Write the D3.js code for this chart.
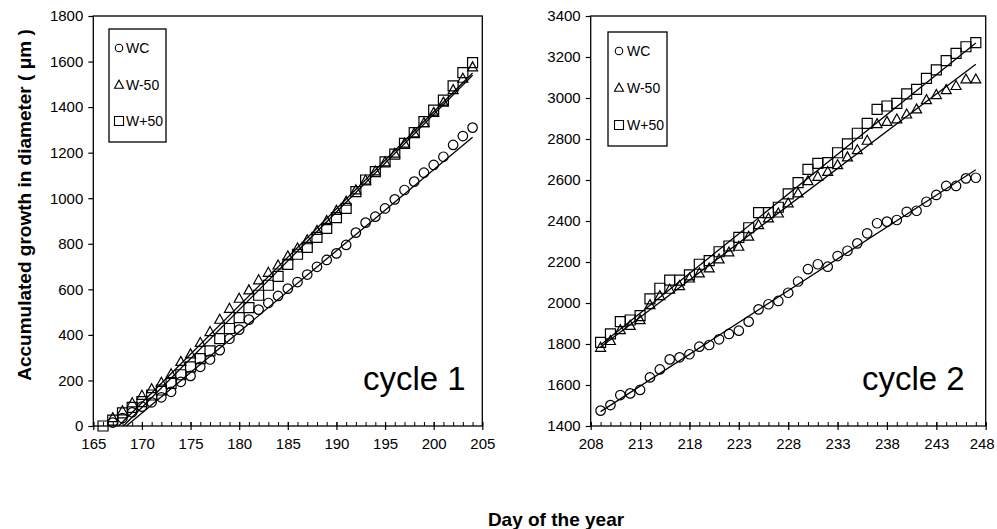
<!DOCTYPE html>
<html><head><meta charset="utf-8">
<script src="https://cdn.jsdelivr.net/npm/d3@7"></script>
<style>body{margin:0;background:#fff} svg text{font-family:"Liberation Sans",Arial,Helvetica,sans-serif;fill:#000}</style>
</head><body><svg id="c" width="997" height="529"></svg>
<script>
// ---------- DATA ----------
const seriesNames = ["WC", "W-50", "W+50"];

// Cycle 1
const c1Days = [166,167,168,169,170,171,172,173,174,175,176,177,178,179,180,181,182,183,184,185,
                186,187,188,189,190,191,192,193,194,195,196,197,198,199,200,201,202,203,204];
const c1WC   = [null,15,35,60,85,104,126,150,194,220,260,292,333,383,423,467,511,540,571,603,
                632,665,699,729,758,795,849,893,919,955,995,1036,1073,1112,1146,1182,1234,1273,1310];
const c1Wm50 = [null,35,65,100,133,162,190,228,282,315,365,413,467,515,559,596,640,673,705,745,
                780,816,857,900,945,985,1035,1078,1118,1158,1196,1240,1285,1330,1375,1420,1475,1525,1575];
const c1Wp50 = [0,26,58,82,107,136,158,187,225,260,296,330,384,428,476,520,574,618,657,710,
                754,784,828,868,915,955,1029,1080,1117,1160,1194,1241,1288,1336,1387,1431,1493,1551,1595];
// fitted lines (start/end points)
const c1FitWC   = [[168.4, 0], [204, 1268]];
const c1FitWm50 = [[167.6, 0], [204, 1550]];
const c1FitWp50 = [[168.1, 0], [204, 1540]];

// Cycle 2
const c2Days = [209,210,211,212,213,214,215,216,217,218,219,220,221,222,223,224,225,226,227,228,
                229,230,231,232,233,234,235,236,237,238,239,240,241,242,243,244,245,246,247];
const c2WC   = [1475,1502,1551,1559,1576,1637,1676,1725,1735,1750,1787,1795,1823,1849,1865,1909,1969,1994,2010,2050,
                2105,2165,2189,2177,2229,2255,2291,2340,2389,2397,2405,2445,2450,2494,2527,2571,2571,2608,2611];
const c2Wm50 = [1782,1815,1868,1889,1917,1990,2034,2065,2083,2120,2145,2169,2213,2247,2275,2324,2380,2413,2437,2486,
                2535,2595,2616,2640,2673,2711,2746,2792,2873,2884,2896,2920,2945,2990,3015,3039,3059,3091,3091];
const c2Wp50 = [1808,1849,1909,1917,1938,2020,2072,2112,2112,2137,2189,2207,2250,2278,2320,2367,2441,2441,2467,2532,
                2587,2652,2681,2685,2733,2776,2828,2876,2945,2961,2974,3020,3042,3096,3137,3182,3218,3250,3270];
const c2FitWC   = [[209, 1470], [247, 2650]];
const c2FitWm50 = [[209, 1785], [247, 3165]];
const c2FitWp50 = [[209, 1795], [247, 3268]];

// ticks
const c1XTicks = [165,170,175,180,185,190,195,200,205];
const c1YTicks = [0,200,400,600,800,1000,1200,1400,1600,1800];
const c2XTicks = [208,213,218,223,228,233,238,243,248];
const c2YTicks = [1400,1600,1800,2000,2200,2400,2600,2800,3000,3200,3400];

const panelLabels = ["cycle 1", "cycle 2"];
const yTitle = "Accumulated growth in diameter ( \u03bcm )";
const xTitle = "Day of the year";

// ---------- DRAW ----------
const svg = d3.select("#c");
const shapes = ["circle", "triangle", "square"];

function markerPath(shape, s) {
  if (shape === "circle") { const r = s / 2; return `M${-r},0a${r},${r} 0 1,0 ${2*r},0a${r},${r} 0 1,0 ${-2*r},0Z`; }
  if (shape === "square") { const h = s / 2; return `M${-h},${-h}H${h}V${h}H${-h}Z`; }
  const w = s / 2, hh = s * 0.9;
  return `M0,${-hh*0.6}L${w},${hh*0.4}L${-w},${hh*0.4}Z`;
}

function panel(cfg) {
  const x = d3.scaleLinear().domain(cfg.xDomain).range(cfg.xRange);
  const y = d3.scaleLinear().domain(cfg.yDomain).range([426, 16]);
  const g = svg.append("g");

  // frame
  g.append("rect").attr("x", cfg.xRange[0]).attr("y", 16)
    .attr("width", cfg.xRange[1] - cfg.xRange[0]).attr("height", 410)
    .attr("fill", "none").attr("stroke", "#000").attr("stroke-width", 1.3);

  // y axis
  const ya = g.append("g").attr("transform", `translate(${cfg.xRange[0]},0)`)
    .call(d3.axisLeft(y).tickValues(cfg.yTicks).tickSize(5).tickPadding(5).tickFormat(d3.format("d")));
  ya.select(".domain").remove();
  ya.selectAll("line").attr("stroke-width", 1.2);
  ya.selectAll("text").attr("font-size", 15).attr("font-family", "Liberation Sans, Arial, sans-serif");

  // x axis: minor upward ticks for every day, major ticks crossing
  const days = d3.range(cfg.xDomain[0], cfg.xDomain[1] + 1);
  const xm = g.append("g").attr("transform", "translate(0,426)")
    .call(d3.axisTop(x).tickValues(days).tickSize(4).tickFormat(""));
  xm.select(".domain").remove();
  const xa = g.append("g").attr("transform", "translate(0,426)")
    .call(d3.axisBottom(x).tickValues(cfg.xTicks).tickSize(4).tickPadding(8).tickFormat(d3.format("d")));
  xa.select(".domain").remove();
  xa.selectAll("line").attr("y1", -4).attr("stroke-width", 1.2);
  xa.selectAll("text").attr("font-size", 15).attr("font-family", "Liberation Sans, Arial, sans-serif");
  if (cfg.lastLabelShift) {
    xa.selectAll("text").filter(d => d === cfg.xDomain[1]).attr("dx", cfg.lastLabelShift);
  }

  // fitted lines
  const line = d3.line().x(d => x(d[0])).y(d => y(d[1]));
  cfg.fits.forEach(f => {
    g.append("path").attr("d", line(f)).attr("fill", "none").attr("stroke", "#000").attr("stroke-width", 1.3);
  });

  // points
  cfg.series.forEach((vals, i) => {
    const pts = cfg.days.map((d, k) => [d, vals[k]]).filter(p => p[1] !== null);
    g.selectAll(null).data(pts).enter().append("path")
      .attr("transform", p => `translate(${x(p[0])},${y(p[1])})`)
      .attr("d", markerPath(shapes[i], shapes[i] === "circle" ? 9.5 : 10))
      .attr("fill", "none").attr("stroke", "#000").attr("stroke-width", 1.2);
  });

  // legend
  const L = cfg.legend;
  g.append("rect").attr("x", L.x).attr("y", L.y).attr("width", L.w).attr("height", L.h)
    .attr("fill", "#fff").attr("stroke", "#000").attr("stroke-width", 1.3);
  seriesNames.forEach((n, i) => {
    const yy = L.rows[i];
    g.append("path").attr("transform", `translate(${L.mx},${yy})`)
      .attr("d", markerPath(shapes[i], shapes[i] === "circle" ? 7.5 : 9))
      .attr("fill", "none").attr("stroke", "#000").attr("stroke-width", 1.1);
    g.append("text").attr("x", L.tx).attr("y", yy).attr("dy", "0.35em")
      .attr("font-size", 14).text(n);
  });

  // panel label
  g.append("text").attr("x", cfg.label[0]).attr("y", cfg.label[1])
    .attr("font-size", 33).text(cfg.labelText);
}

panel({
  xDomain: [165, 205], xRange: [93.3, 482.3], yDomain: [0, 1800],
  xTicks: c1XTicks, yTicks: c1YTicks, days: c1Days,
  series: [c1WC, c1Wm50, c1Wp50], fits: [c1FitWC, c1FitWm50, c1FitWp50],
  legend: { x: 109, y: 29, w: 57, h: 113, rows: [48, 85, 121], mx: 119, tx: 126 },
  label: [363, 390], labelText: panelLabels[0]
});
panel({
  xDomain: [208, 248], xRange: [590.7, 985.7], yDomain: [1400, 3400],
  xTicks: c2XTicks, yTicks: c2YTicks, days: c2Days,
  series: [c2WC, c2Wm50, c2Wp50], fits: [c2FitWC, c2FitWm50, c2FitWp50],
  legend: { x: 608, y: 32, w: 59, h: 114, rows: [51, 88, 125], mx: 619, tx: 627 },
  label: [862, 390], labelText: panelLabels[1], lastLabelShift: -4
});

// axis titles
svg.append("text").attr("transform", "translate(31,205) rotate(-90)")
  .attr("text-anchor", "middle").attr("font-size", 19).attr("font-weight", "bold").text(yTitle);
svg.append("text").attr("x", 556).attr("y", 526)
  .attr("text-anchor", "middle").attr("font-size", 19).attr("font-weight", "bold").text(xTitle);
</script></body></html>
